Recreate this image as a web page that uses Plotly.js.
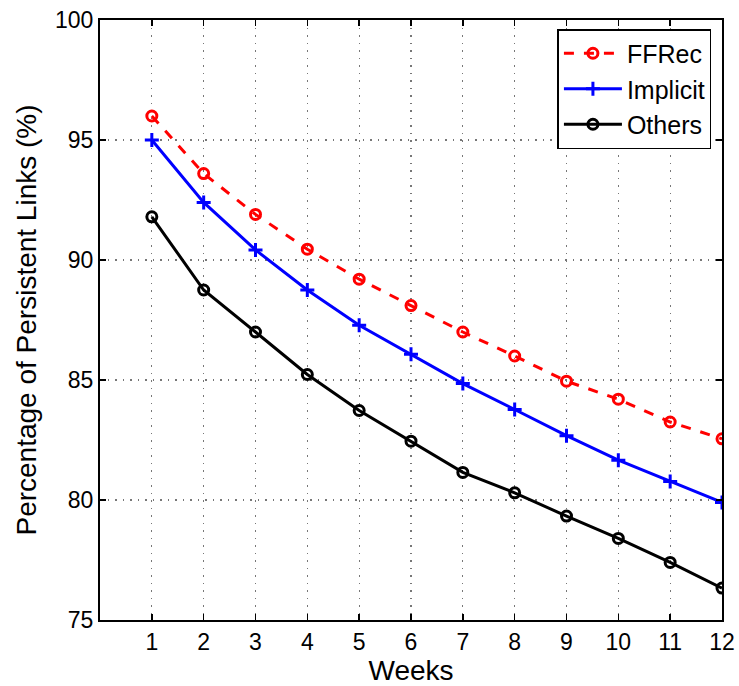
<!DOCTYPE html>
<html><head><meta charset="utf-8">
<script src="https://cdn.plot.ly/plotly-3.0.1.min.js"></script>
<style>body{margin:0;background:#fff}#chart{width:739px;height:686px}</style>
</head><body><div id="chart"></div>
<script>
const weeks = [1,2,3,4,5,6,7,8,9,10,11,12];
const ffrec = [96.0,93.6,91.9,90.45,89.2,88.1,87.0,86.0,84.95,84.2,83.25,82.55];
const implicitVals = [95.0,92.4,90.42,88.75,87.28,86.07,84.85,83.77,82.68,81.66,80.77,79.9];
const others = [91.8,88.75,87.0,85.23,83.73,82.45,81.15,80.3,79.33,78.4,77.4,76.33];
const seriesNames = ['FFRec','Implicit','Others'];
const yTicks = [75,80,85,90,95,100];

const font = 'Liberation Sans, Arial, sans-serif';
const traces = [
  {x: weeks, y: ffrec, name: seriesNames[0], mode: 'lines+markers',
   line: {color: '#ff0000', width: 3, dash: '10px,10px'},
   marker: {symbol: 'circle-open', size: 10, color: '#ff0000', line: {width: 3, color: '#ff0000'}}},
  {x: weeks, y: implicitVals, name: seriesNames[1], mode: 'lines+markers',
   line: {color: '#0000ff', width: 3},
   marker: {symbol: 'cross-thin-open', size: 10, color: '#0000ff', line: {width: 3, color: '#0000ff'}}},
  {x: weeks, y: others, name: seriesNames[2], mode: 'lines+markers',
   line: {color: '#000000', width: 3},
   marker: {symbol: 'circle-open', size: 10, color: '#000000', line: {width: 3, color: '#000000'}}}
];
const layout = {
  width: 739, height: 686,
  margin: {l: 100, r: 17, t: 20, b: 66},
  paper_bgcolor: '#fff', plot_bgcolor: '#fff',
  font: {family: font, size: 22, color: '#000'},
  showlegend: true,
  legend: {x: 0.983, y: 0.985, xanchor: 'right', yanchor: 'top',
    bgcolor: '#fff', bordercolor: '#000', borderwidth: 1.5,
    font: {family: font, size: 25}, itemwidth: 58, tracegroupgap: 0},
  xaxis: {range: [0, 12], tickvals: weeks, ticktext: weeks.map(String),
    showline: true, linecolor: '#000', linewidth: 2, mirror: 'ticks',
    ticks: 'inside', ticklen: 6, tickcolor: '#000', tickwidth: 1.5,
    showgrid: true, gridcolor: '#777', griddash: '1.5px,6px', gridwidth: 1.2,
    zeroline: false, tickfont: {size: 23},
    title: {text: 'Weeks', font: {size: 28}, standoff: 2}},
  yaxis: {range: [75, 100], tickvals: yTicks,
    showline: true, linecolor: '#000', linewidth: 2, mirror: 'ticks',
    ticks: 'inside', ticklen: 6, tickcolor: '#000', tickwidth: 1.5,
    showgrid: true, gridcolor: '#777', griddash: '1.5px,6px', gridwidth: 1.2,
    zeroline: false, tickfont: {size: 23},
    title: {text: 'Percentage of Persistent Links (%)', font: {size: 28}, standoff: 10}}
};
Plotly.newPlot('chart', traces, layout, {displayModeBar: false, staticPlot: true});
</script></body></html>
